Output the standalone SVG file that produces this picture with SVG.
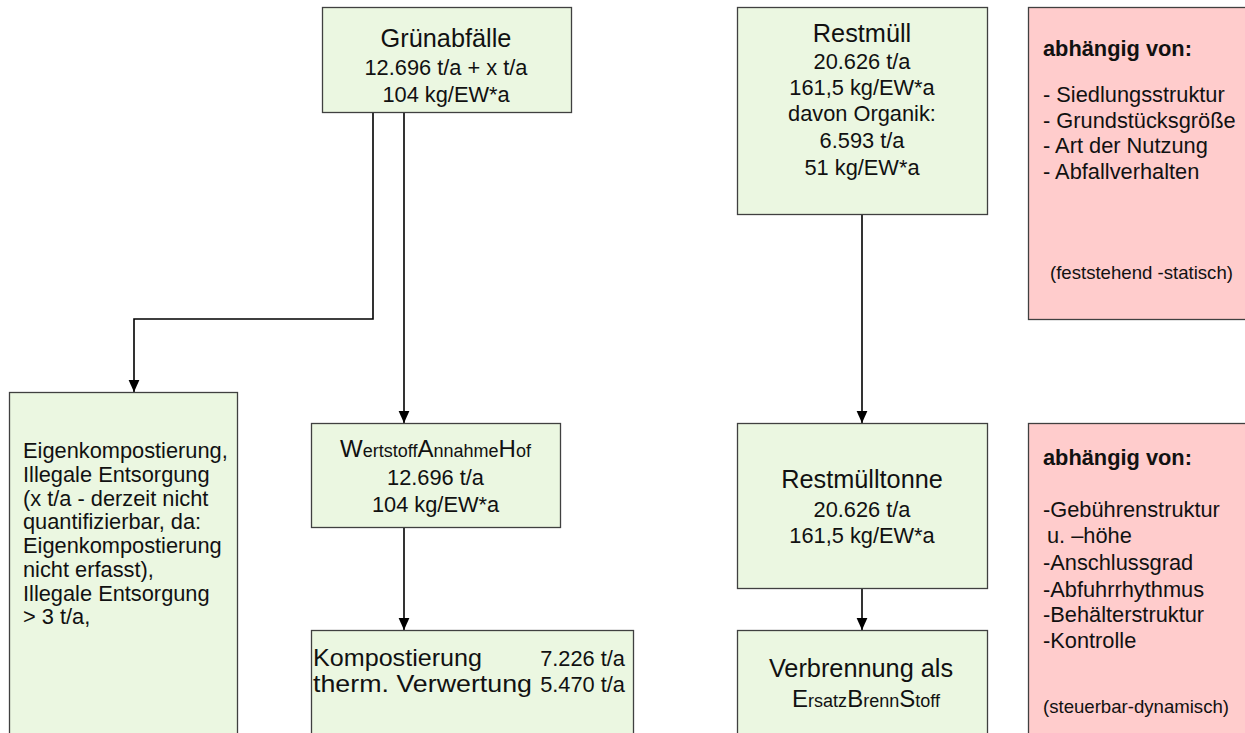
<svg xmlns="http://www.w3.org/2000/svg" width="1245" height="733" viewBox="0 0 1245 733">
<style>
.box{fill:#ebf7e1;stroke:#404040;stroke-width:1.3}
.pink{fill:#ffcccc;stroke:#404040;stroke-width:1.3}
text{font-family:"Liberation Sans",Arial,sans-serif;fill:#111}
.t{font-size:25.3px}
.k{font-size:24.5px}
.b{font-size:21.8px}
.s{font-size:18.6px}
.bold{font-size:21.8px;font-weight:bold}
.c{text-anchor:middle}
.big{font-size:24px}
.sm{font-size:18px}
.con{fill:none;stroke:#000;stroke-width:1.6}
</style>
<defs>
<marker id="arr" markerUnits="userSpaceOnUse" markerWidth="12" markerHeight="12" viewBox="0 0 10 10" refX="10" refY="5" orient="auto">
<path d="M0,0.5 L10,5 L0,9.5 Z" fill="#000"/>
</marker>
</defs>
<rect width="1245" height="733" fill="#fff"/>
<g id="connectors">
<path class="con" d="M373,112 V319 H134 V392" marker-end="url(#arr)"/>
<path class="con" d="M404,112 V423" marker-end="url(#arr)"/>
<path class="con" d="M404,527 V630" marker-end="url(#arr)"/>
<path class="con" d="M862,215 V423" marker-end="url(#arr)"/>
<path class="con" d="M862,589 V630" marker-end="url(#arr)"/>
</g>
<g id="gruenabfaelle">
<rect class="box" x="322.5" y="7.5" width="249" height="105"/>
<text class="t c" x="446" y="47">Grünabfälle</text>
<text class="b c" x="446" y="75">12.696 t/a + x t/a</text>
<text class="b c" x="446" y="102">104 kg/EW*a</text>
</g>
<g id="restmuell">
<rect class="box" x="737.5" y="7.5" width="250" height="207"/>
<text class="t c" x="862" y="42">Restmüll</text>
<text class="b c" x="862" y="68.5">20.626 t/a</text>
<text class="b c" x="862" y="95">161,5 kg/EW*a</text>
<text class="b c" x="862" y="121">davon Organik:</text>
<text class="b c" x="862" y="148">6.593 t/a</text>
<text class="b c" x="862" y="174.5">51 kg/EW*a</text>
</g>
<g id="faktoren-statisch">
<rect class="pink" x="1028.5" y="7.5" width="230" height="312"/>
<text class="bold" x="1043" y="56">abhängig von:</text>
<text class="b" x="1043" y="102">- Siedlungsstruktur</text>
<text class="b" x="1043" y="127.5">- Grundstücksgröße</text>
<text class="b" x="1043" y="153">- Art der Nutzung</text>
<text class="b" x="1043" y="178.5">- Abfallverhalten</text>
<text class="s" x="1050" y="279">(feststehend -statisch)</text>
</g>
<g id="eigenkompostierung">
<rect class="box" x="9.5" y="392.5" width="228" height="360"/>
<text class="b" x="23" y="458.3">Eigenkompostierung,</text>
<text class="b" x="23" y="482">Illegale Entsorgung</text>
<text class="b" x="23" y="505.7">(x t/a - derzeit nicht</text>
<text class="b" x="23" y="529.4">quantifizierbar, da:</text>
<text class="b" x="23" y="553.1">Eigenkompostierung</text>
<text class="b" x="23" y="576.8">nicht erfasst),</text>
<text class="b" x="23" y="600.5">Illegale Entsorgung</text>
<text class="b" x="23" y="624.2">&gt; 3 t/a,</text>
</g>
<g id="wertstoffannahmehof">
<rect class="box" x="311.5" y="423.5" width="249" height="104"/>
<text class="c" x="435.5" y="456.7"><tspan class="big">W</tspan><tspan class="sm">ertstoff</tspan><tspan class="big">A</tspan><tspan class="sm">nnahme</tspan><tspan class="big">H</tspan><tspan class="sm">of</tspan></text>
<text class="b c" x="435.5" y="485">12.696 t/a</text>
<text class="b c" x="435.5" y="511.7">104 kg/EW*a</text>
</g>
<g id="kompostierung">
<rect class="box" x="311.5" y="630.5" width="322" height="120"/>
<text class="k" x="313" y="665.5" textLength="169" lengthAdjust="spacingAndGlyphs">Kompostierung</text>
<text class="b" x="625" y="665.5" text-anchor="end">7.226 t/a</text>
<text class="k" x="313" y="692" textLength="219" lengthAdjust="spacingAndGlyphs">therm. Verwertung</text>
<text class="b" x="625" y="692" text-anchor="end">5.470 t/a</text>
</g>
<g id="restmuelltonne">
<rect class="box" x="737.5" y="423.5" width="250" height="165"/>
<text class="t c" x="862" y="488.3">Restmülltonne</text>
<text class="b c" x="862" y="516.7">20.626 t/a</text>
<text class="b c" x="862" y="542.7">161,5 kg/EW*a</text>
</g>
<g id="verbrennung">
<rect class="box" x="737.5" y="630.5" width="250" height="120"/>
<text class="t c" x="861" y="676.7">Verbrennung als</text>
<text class="c" x="866" y="706.7"><tspan class="big">E</tspan><tspan class="sm">rsatz</tspan><tspan class="big">B</tspan><tspan class="sm">renn</tspan><tspan class="big">S</tspan><tspan class="sm">toff</tspan></text>
</g>
<g id="faktoren-dynamisch">
<rect class="pink" x="1028.5" y="423.5" width="230" height="330"/>
<text class="bold" x="1043" y="465">abhängig von:</text>
<text class="b" x="1043" y="516.7">-Gebührenstruktur</text>
<text class="b" x="1047" y="543">u. –höhe</text>
<text class="b" x="1043" y="570">-Anschlussgrad</text>
<text class="b" x="1043" y="596.5">-Abfuhrrhythmus</text>
<text class="b" x="1043" y="622">-Behälterstruktur</text>
<text class="b" x="1043" y="648">-Kontrolle</text>
<text class="s" x="1043" y="713">(steuerbar-dynamisch)</text>
</g>
</svg>
